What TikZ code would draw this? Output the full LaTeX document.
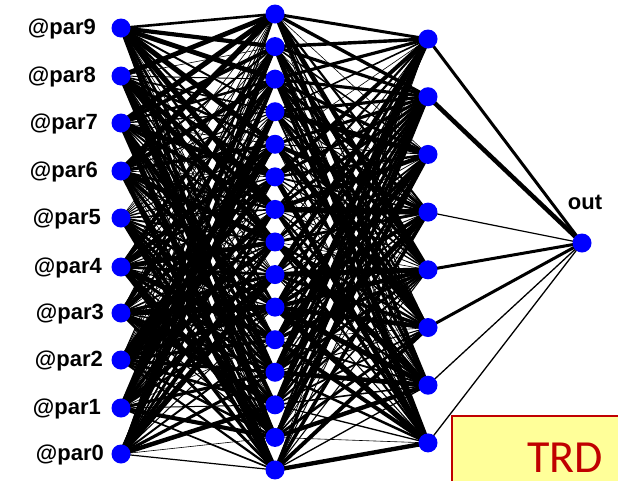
\documentclass[tikz,border=0pt]{standalone}
\usepackage{fontspec}
\newfontfamily\labfont{Liberation Sans}
\newfontfamily\trdfont{Carlito}
\usetikzlibrary{backgrounds}
\definecolor{nodeblue}{RGB}{0,0,255}
\definecolor{boxfill}{RGB}{255,255,153}
\definecolor{boxred}{RGB}{192,0,0}
\begin{document}
\begin{tikzpicture}[x=1pt,y=-1pt,
  neuron/.style={circle,fill=nodeblue,inner sep=0pt,minimum size=19pt},
  parlabel/.style={anchor=base east,inner sep=0pt,font=\labfont\bfseries\fontsize{22}{24}\selectfont},
  link/.style={draw=black,line cap=round}
]
\useasboundingbox (0,0) rectangle (618,480);
% input layer
\foreach \i/\y in {0/454,1/408,2/360,3/313,4/267,5/218,6/171,7/123,8/76,9/28}
  \node[neuron] (p\i) at (121,\y) {};
% labels
\foreach \i/\y/\x in {0/454/104,1/408/101,2/360/103,3/313/104,4/267/102,5/218/101,6/171/98,7/123/98,8/76/96,9/28/96}
  \node[parlabel] (l\i) at (\x,{\y+6.5}) {@par\i};
% hidden layer 1
\foreach \j in {0,...,14}
  \node[neuron] (a\j) at (275,{14+\j*32.57}) {};
% hidden layer 2
\foreach \k in {0,...,7}
  \node[neuron] (b\k) at (428,{39+\k*57.7}) {};
% output
\node[neuron] (out) at (582,243) {};
\node[anchor=base,inner sep=0pt,font=\labfont\bfseries\fontsize{22}{24}\selectfont] (outlab) at (585,209) {out};
% connectors
\begin{pgfonlayer}{background}
\foreach \i in {0,...,9}
  \foreach \j in {0,...,14} {
    \pgfmathsetmacro{\v}{mod(\i*37+\j*23+\i*\j*7+5,19)/18}
    \pgfmathsetmacro{\w}{0.6+5.0*\v^1.4}
    \ifnum\i=9
      \ifnum\j=0 \def\w{2.6}\fi
      \ifnum\j=1 \def\w{4.2}\fi
    \fi
    \draw[link,line width=\w pt] (p\i.center) -- (a\j.center);
  }
\foreach \j in {0,...,14}
  \foreach \k in {0,...,7} {
    \pgfmathsetmacro{\v}{mod(\j*29+\k*41+\j*\k*5+3,17)/16}
    \pgfmathsetmacro{\w}{0.6+5.0*\v^1.4}
    \ifnum\j=0
      \ifnum\k=0 \def\w{3.0}\fi
      \ifnum\k=1 \def\w{3.4}\fi
    \fi
    \ifnum\j=1
      \ifnum\k=0 \def\w{3.4}\fi
    \fi
    \draw[link,line width=\w pt] (a\j.center) -- (b\k.center);
  }
\foreach \k/\w in {0/3,1/4.5,3/1.2,4/3,5/3,6/1.3,7/1.3}
  \draw[link,line width=\w pt] (b\k.center) -- (out.center);
\end{pgfonlayer}
% TRD box
\clip (0,0) rectangle (618,480);
\draw[draw=boxred,fill=boxfill,line width=1.5pt] (452,416) rectangle (640,500);
\node[anchor=base west,inner sep=0pt,text=boxred,font=\trdfont\fontsize{46}{46}\selectfont] (trd) at (527,472) {TRD};
\end{tikzpicture}
\end{document}
